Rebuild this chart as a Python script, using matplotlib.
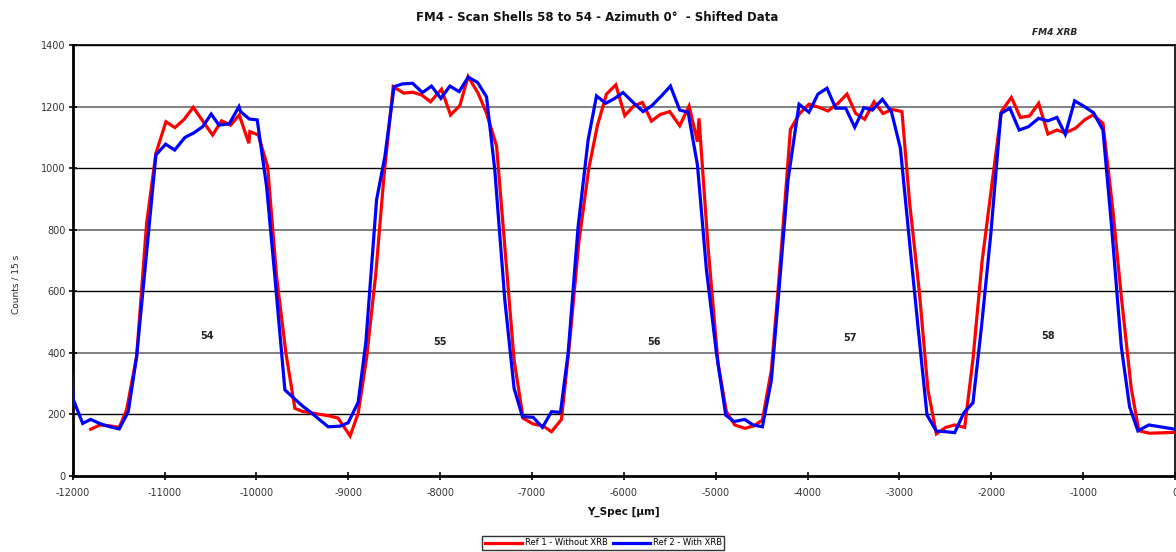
import matplotlib
matplotlib.use("Agg")
import matplotlib.pyplot as plt

plt.rcParams['font.family'] = ['DejaVu Sans']
plt.rcParams['axes.unicode_minus'] = False

# ---- data ----
red_x = [-11804, -11703, -11594, -11493, -11413, -11304, -11195, -11094, -10985, -10887,
         -10786, -10688, -10579, -10477, -10379, -10281, -10187, -10082, -10071, -9980,
         -9878, -9780, -9679, -9581, -9500, -9400, -9300, -9200, -9110, -8980,
         -8892, -8801, -8700, -8610, -8511, -8395, -8300, -8202, -8104, -7985,
         -7887, -7786, -7695, -7587, -7495, -7386, -7284, -7195, -7097, -6988,
         -6879, -6788, -6679, -6589, -6490, -6382, -6287, -6189, -6088, -5990,
         -5892, -5798, -5700, -5602, -5501, -5392, -5290, -5199, -5182, -5084,
         -4975, -4884, -4793, -4685, -4583, -4492, -4394, -4292, -4187, -4086,
         -3985, -3876, -3778, -3669, -3571, -3477, -3379, -3277, -3179, -3077,
         -2973, -2889, -2786, -2690, -2598, -2497, -2399, -2290, -2200, -2100,
         -1983, -1891, -1782, -1684, -1583, -1485, -1384, -1286, -1192, -1083,
         -985, -894, -785, -677, -585, -477, -394, -277, 0]
red_y = [152, 166, 163, 158, 215, 388, 822, 1049, 1152, 1133,
         1160, 1199, 1152, 1109, 1155, 1141, 1174, 1082, 1120, 1109,
         1006, 648, 400, 220, 210, 205, 200, 195, 188, 130,
         204, 383, 659, 980, 1266, 1245, 1248, 1239, 1217, 1258,
         1174, 1204, 1299, 1245, 1180, 1073, 702, 377, 188, 169,
         163, 144, 184, 440, 760, 1000, 1141, 1242, 1272, 1172,
         1203, 1215, 1154, 1176, 1185, 1139, 1203, 1087, 1163, 746,
         366, 209, 166, 155, 163, 182, 345, 713, 1127, 1179,
         1209, 1199, 1187, 1212, 1242, 1179, 1160, 1217, 1179, 1192,
         1185, 887, 605, 280, 137, 158, 166, 158, 380, 700,
         973, 1185, 1231, 1166, 1171, 1212, 1112, 1125, 1116, 1131,
         1158, 1174, 1147, 865, 583, 285, 147, 139, 142]

blue_x = [-12010, -11995, -11891, -11804, -11700, -11594, -11493, -11395, -11304, -11200,
          -11094, -10988, -10890, -10778, -10680, -10585, -10492, -10408, -10296, -10190,
          -10172, -10078, -9991, -9889, -9799, -9690, -9600, -9500, -9400, -9300,
          -9219, -9091, -9001, -8892, -8808, -8692, -8602, -8501, -8410, -8300,
          -8192, -8094, -7992, -7894, -7793, -7695, -7593, -7495, -7405, -7296,
          -7195, -7104, -6988, -6886, -6788, -6690, -6607, -6498, -6389, -6298,
          -6197, -6099, -6009, -5900, -5791, -5700, -5591, -5493, -5392, -5301,
          -5199, -5101, -4992, -4891, -4801, -4685, -4594, -4492, -4394, -4310,
          -4213, -4093, -3985, -3887, -3789, -3694, -3585, -3487, -3386, -3295,
          -3186, -3088, -2990, -2889, -2791, -2700, -2598, -2497, -2399, -2298,
          -2200, -2109, -2005, -1896, -1798, -1697, -1595, -1486, -1384, -1286,
          -1195, -1093, -985, -887, -785, -694, -585, -495, -405, -285, 0]
blue_y = [340, 250, 171, 184, 170, 160, 153, 209, 388, 712,
          1044, 1079, 1060, 1101, 1116, 1136, 1177, 1141, 1145, 1201,
          1185, 1161, 1158, 941, 648, 280, 255, 228, 205, 180,
          160, 162, 173, 240, 437, 898, 1038, 1266, 1275, 1277,
          1247, 1268, 1228, 1268, 1250, 1297, 1280, 1233, 995, 572,
          285, 193, 191, 158, 209, 207, 399, 811, 1093, 1236,
          1212, 1228, 1247, 1215, 1185, 1203, 1236, 1268, 1190, 1183,
          1011, 670, 399, 198, 177, 184, 166, 160, 312, 610,
          963, 1209, 1183, 1242, 1261, 1196, 1196, 1134, 1198, 1190,
          1225, 1185, 1066, 757, 464, 198, 146, 144, 141, 206,
          238, 480, 789, 1179, 1196, 1125, 1136, 1163, 1155, 1166,
          1111, 1220, 1201, 1181, 1125, 822, 420, 225, 147, 166, 152]

shell_labels = ["54", "55", "56", "57", "58"]
shell_label_x = [-10540, -8000, -5675, -3540, -1385]
shell_label_y = [455, 436, 436, 449, 455]

x_ticks = list(range(-12000, 1, 1000))
y_ticks = list(range(0, 1401, 200))

title = "FM4 - Scan Shells 58 to 54 - Azimuth 0°  - Shifted Data"
subtitle = "FM4 XRB"
series_names = ["Ref 1 - Without XRB", "Ref 2 - With XRB"]

# ---- figure ----
fig = plt.figure(figsize=(11.76, 5.52), dpi=100)
ax = fig.add_axes([0.0618, 0.1377, 0.9374, 0.7799])

# gridlines (alternating look as in the reference)
for v in y_ticks[1:]:
    if v in (400, 800, 1200):
        ax.axhline(v, color='#808080', lw=1.4, zorder=1)
    else:
        ax.axhline(v, color='black', lw=1.0, zorder=1)

ax.plot(red_x, red_y, color='#FF0000', lw=2.3, zorder=3, label=series_names[0],
        solid_joinstyle='miter')
ax.plot(blue_x, blue_y, color='#0000FF', lw=2.3, zorder=4, label=series_names[1],
        solid_joinstyle='miter')

for t, xx, yy in zip(shell_labels, shell_label_x, shell_label_y):
    ax.text(xx, yy, t, fontsize=7, fontweight='bold', color='#222222',
            ha='center', va='center')

ax.set_xlim(-12000, 0)
ax.set_ylim(0, 1400)
ax.set_xticks(x_ticks)
ax.set_yticks(y_ticks)
ax.set_xticklabels([str(v) for v in x_ticks])
ax.tick_params(axis='both', direction='inout', length=6, width=1.2,
               labelsize=7, labelcolor='#333333', color='black')
ax.tick_params(axis='x', pad=6)
ax.tick_params(axis='y', pad=2)

for side in ['left', 'bottom']:
    ax.spines[side].set_linewidth(2.0)
for side in ['top', 'right']:
    ax.spines[side].set_linewidth(1.2)

ax.set_xlabel("Y_Spec [µm]", fontsize=7.5, fontweight='bold', color='#111111', labelpad=6)
fig.text(0.0135, 0.485, "Counts / 15 s", rotation=90, fontsize=6.5,
         ha='center', va='center', color='#222222')

fig.text(0.508, 0.968, title, fontsize=8.5, fontweight='bold', ha='center',
         va='center', color='#111111')
fig.text(0.897, 0.941, subtitle, fontsize=6.5, fontweight='bold', style='italic',
         ha='center', va='center', color='#222222')

leg = fig.legend(loc='upper center', bbox_to_anchor=(0.513, 0.029), ncol=2,
                 fontsize=6, frameon=True, fancybox=False, edgecolor='black',
                 handlelength=4.5, handletextpad=0.3, columnspacing=0.6,
                 borderpad=0.3, borderaxespad=0)
leg.get_frame().set_linewidth(1.0)

fig.savefig("out.png", dpi=100)
